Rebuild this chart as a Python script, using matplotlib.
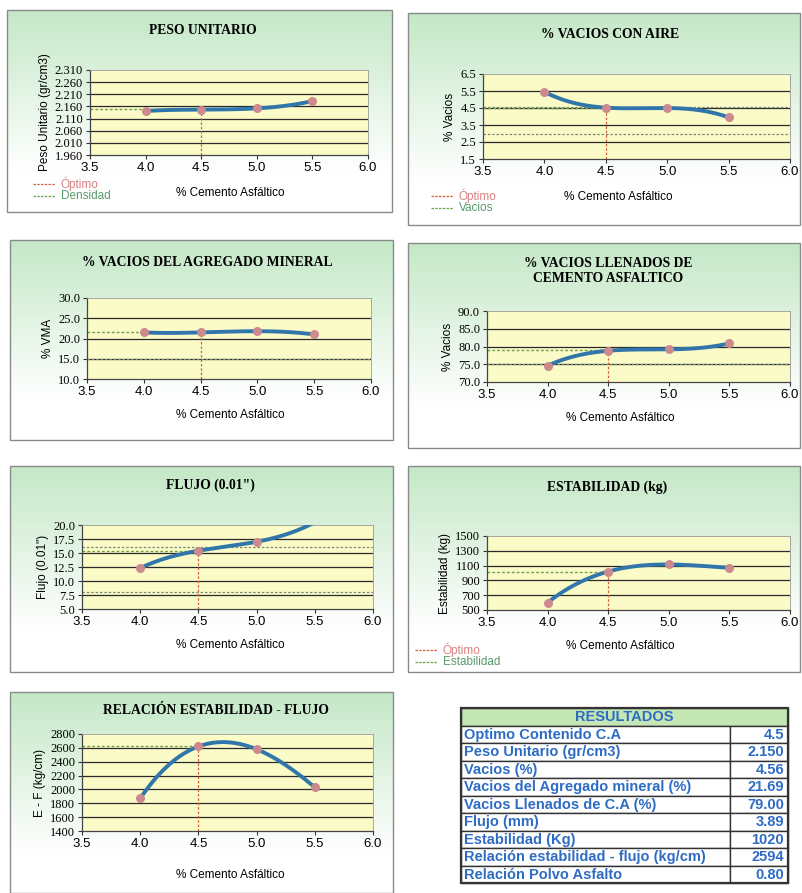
import matplotlib
matplotlib.use('Agg')
import matplotlib.pyplot as plt
import numpy as np
from matplotlib.patches import Rectangle

W, H = 803, 893

# % cemento asfaltico and test results
asfalto = [4.0, 4.5, 5.0, 5.5]
optimo = 4.5

peso_unitario = [2.141, 2.147, 2.152, 2.182]
vacios_aire = [5.45, 4.52, 4.50, 3.95]
vma = [21.5, 21.5, 21.8, 21.0]
vfa = [74.6, 78.8, 79.2, 80.9]
flujo = [12.3, 15.4, 17.0, 20.5]
estabilidad = [600, 1020, 1115, 1070]
rel_ef = [1870, 2620, 2580, 2030]

res_labels = ['Optimo Contenido C.A', 'Peso Unitario (gr/cm3)', 'Vacios (%)',
              'Vacios del Agregado mineral (%)', 'Vacios Llenados de C.A (%)',
              'Flujo (mm)', 'Estabilidad (Kg)',
              'Relación estabilidad - flujo (kg/cm)', 'Relación Polvo Asfalto']
res_values = ['4.5', '2.150', '4.56', '21.69', '79.00', '3.89', '1020', '2594', '0.80']

SERIF = 'Liberation Serif'
SANS = 'Liberation Sans'
BLUE_LINE = '#3176aa'
MARK = '#cc8a8e'
RED = '#d0603a'
GREEN = '#6fa048'
GRAY_DASH = '#7d8a78'

fig = plt.figure(figsize=(W / 100, H / 100), dpi=100)
fig.patch.set_facecolor('white')

# full-figure canvas in pixel coords
bg = fig.add_axes([0, 0, 1, 1])
bg.set_xlim(0, W)
bg.set_ylim(H, 0)
bg.axis('off')

grad = np.linspace(0, 1, 200)[:, None]
green_top = np.array([0.77, 0.91, 0.78])
white = np.array([1.0, 1.0, 1.0])


def panel_box(x0, y0, x1, y1):
    t = np.clip(grad / 0.8, 0, 1)
    img = green_top[None, None, :] * (1 - t[..., None]) + white[None, None, :] * t[..., None]
    bg.imshow(img, extent=[x0, x1, y1, y0], aspect='auto', zorder=0)
    bg.add_patch(Rectangle((x0, y0), x1 - x0, y1 - y0, fill=False,
                           edgecolor='#8a8a8a', lw=1.0, zorder=1))


def legend(x, y, name):
    bg.plot([x, x + 22], [y, y], ls=(0, (2, 1)), color=RED, lw=0.9)
    bg.text(x + 28, y, 'Óptimo', color='#d88080', fontsize=8.5, family=SANS, va='center')
    bg.plot([x, x + 22], [y + 12, y + 12], ls=(0, (2, 1)), color=GREEN, lw=0.9)
    bg.text(x + 28, y + 12, name, color='#5a9a6a', fontsize=8.5, family=SANS, va='center')


def chart(box, title, ylabel, vals, yticks, fmt, title_xy, ref=None, spec=()):
    x0, y0, x1, y1 = box
    ax = fig.add_axes([x0 / W, 1 - y1 / H, (x1 - x0) / W, (y1 - y0) / H])
    ax.set_facecolor('#fbfbc8')
    ax.set_xlim(3.5, 6.0)
    ax.set_ylim(yticks[0], yticks[-1])
    ax.set_xticks(np.arange(3.5, 6.01, 0.5))
    ax.set_xticklabels([f'{v:.1f}' for v in np.arange(3.5, 6.01, 0.5)],
                       family=SANS, fontsize=9.5)
    ax.set_yticks(yticks)
    ax.set_yticklabels([fmt.format(v) for v in yticks], family=SERIF, fontsize=9)
    ax.tick_params(length=3, width=0.8, pad=2, color='#333333')
    for v in yticks[1:-1]:
        ax.axhline(v, color='#2a2a2a', lw=0.9, zorder=1)
    for s in ['left', 'bottom']:
        ax.spines[s].set_color('#444444')
        ax.spines[s].set_linewidth(0.9)
    for s in ['top', 'right']:
        ax.spines[s].set_color('#999999')
        ax.spines[s].set_linewidth(0.6)
    for v in spec:
        ax.axhline(v, color=GRAY_DASH, lw=0.9, ls=(0, (2, 1.5)), zorder=2)

    coef = np.polyfit(asfalto, vals, 3)
    xs = np.linspace(asfalto[0], asfalto[-1], 200)
    ax.plot(xs, np.polyval(coef, xs), color=BLUE_LINE, lw=2.8, zorder=3,
            solid_capstyle='round')
    inside = [(a, v) for a, v in zip(asfalto, vals) if v <= yticks[-1]]
    ax.scatter([a for a, _ in inside], [v for _, v in inside], s=30, color=MARK, zorder=4)

    yopt = np.polyval(coef, optimo)
    ax.plot([optimo, optimo], [yticks[0], yopt], color=RED, lw=0.9,
            ls=(0, (2, 1.5)), zorder=2)
    if ref is None:
        ref = yopt
    ax.plot([3.5, optimo], [ref, ref], color=GREEN, lw=1.0, ls=(0, (2, 1.5)), zorder=2)

    ax.set_ylabel(ylabel, family=SANS, fontsize=8.5, labelpad=3)
    bg.text(title_xy[0], title_xy[1], title, family=SERIF, fontweight='bold', fontsize=9.8,
            ha='center', va='center', linespacing=1.15)
    return ax


def xlabel(cx, y):
    bg.text(cx, y, '% Cemento Asfáltico', family=SANS, fontsize=8.5, ha='center', va='center')


# panel 1
panel_box(7, 10, 392, 212)
chart((90, 70, 368, 155), 'PESO UNITARIO', 'Peso Unitario (gr/cm3)', peso_unitario,
      np.round(np.arange(1.96, 2.311, 0.05), 3), '{:.3f}', (203, 30), ref=2.150)
xlabel(230, 193)
legend(33, 184, 'Densidad')

# panel 2
panel_box(408, 13, 800, 225)
chart((483, 74, 790, 159), '% VACIOS CON AIRE', '% Vacios', vacios_aire,
      np.arange(1.5, 6.51, 1.0), '{:.1f}', (610, 35), spec=(4.56, 3.0))
xlabel(618, 197)
legend(431, 196, 'Vacios')

# panel 3
panel_box(10, 240, 393, 440)
chart((87, 298, 371, 379), '% VACIOS DEL AGREGADO MINERAL', '% VMA', vma,
      np.arange(10.0, 30.01, 5.0), '{:.1f}', (207, 262), ref=21.69, spec=(15.0,))
xlabel(230, 415)

# panel 4
panel_box(408, 243, 800, 448)
chart((487, 311, 790, 382), '% VACIOS LLENADOS DE\nCEMENTO ASFALTICO', '% Vacios', vfa,
      np.arange(70.0, 90.01, 5.0), '{:.1f}', (608, 271), ref=79.0, spec=(75.0,))
xlabel(620, 418)

# panel 5
panel_box(10, 466, 393, 672)
chart((82, 525, 373, 609), 'FLUJO (0.01")', 'Flujo (0.01")', flujo,
      np.arange(5.0, 20.01, 2.5), '{:.1f}', (210, 485), spec=(16.0, 8.0))
xlabel(230, 645)

# panel 6
panel_box(408, 466, 800, 672)
chart((487, 536, 790, 610), 'ESTABILIDAD (kg)', 'Estabilidad (kg)', estabilidad,
      np.arange(500, 1501, 200), '{:d}', (607, 487))
xlabel(620, 646)
legend(415, 650, 'Estabilidad')

# panel 7
panel_box(10, 692, 393, 893)
chart((82, 734, 373, 831), 'RELACIÓN ESTABILIDAD - FLUJO', 'E - F (kg/cm)', rel_ef,
      np.arange(1400, 2801, 200), '{:d}', (216, 710))
xlabel(230, 875)

# results table
tx0, tx1, tcol = 461, 788, 730
ty0, row_h = 708, 17.5
TXT = '#2e6cc4'
bg.add_patch(Rectangle((tx0, ty0), tx1 - tx0, row_h, facecolor='#c5e6b5',
                       edgecolor='#333333', lw=1.0))
bg.text((tx0 + tx1) / 2, ty0 + row_h / 2 + 0.5, 'RESULTADOS', family=SANS,
        fontweight='bold', fontsize=10.5, color=TXT, ha='center', va='center')
for i, (lab, val) in enumerate(zip(res_labels, res_values)):
    y = ty0 + row_h * (i + 1)
    bg.add_patch(Rectangle((tx0, y), tcol - tx0, row_h, facecolor='white',
                           edgecolor='#333333', lw=1.0))
    bg.add_patch(Rectangle((tcol, y), tx1 - tcol, row_h, facecolor='white',
                           edgecolor='#333333', lw=1.0))
    bg.text(tx0 + 3, y + row_h / 2 + 0.5, lab, family=SANS, fontweight='bold',
            fontsize=10.5, color=TXT, va='center')
    bg.text(tx1 - 4, y + row_h / 2 + 0.5, val, family=SANS, fontweight='bold',
            fontsize=10.5, color=TXT, va='center', ha='right')
bg.add_patch(Rectangle((tx0, ty0), tx1 - tx0, row_h * 10, fill=False,
                       edgecolor='#333333', lw=1.6))

fig.savefig('out.png', dpi=100, facecolor='white')
